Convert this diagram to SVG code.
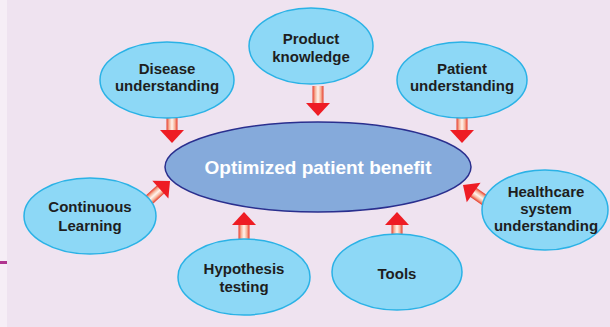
<svg xmlns="http://www.w3.org/2000/svg" width="610" height="327" viewBox="0 0 610 327">
<defs>
<style>
.node{fill:#8DD8F6;stroke:#2AB2E6;stroke-width:1.5}
.t{font-family:"Liberation Sans",Arial,sans-serif;font-weight:bold;font-size:15px;fill:#1E1E1E;text-anchor:middle}
.ct{font-family:"Liberation Sans",Arial,sans-serif;font-weight:bold;font-size:19px;fill:#FFFFFF;text-anchor:middle}
</style>
<linearGradient id="shaft" x1="0" y1="0" x2="0" y2="1">
<stop offset="0" stop-color="#E63A2A"/>
<stop offset="0.25" stop-color="#F7B49A"/>
<stop offset="0.5" stop-color="#FFF4EE"/>
<stop offset="0.75" stop-color="#F7B49A"/>
<stop offset="1" stop-color="#E63A2A"/>
</linearGradient>
<g id="arr">
<rect x="-30" y="-5.5" width="18" height="11" fill="url(#shaft)"/>
<polygon points="-13,-12 0,0 -13,12" fill="#EE1C24"/>
</g>
</defs>
<rect x="0" y="0" width="610" height="327" fill="#EFE3F0"/>
<rect x="0" y="0" width="7" height="327" fill="#F6EEF6"/>
<rect x="0" y="261" width="7" height="3" fill="#B0358F"/>
<g id="connectors">
<use href="#arr" transform="translate(172,143) rotate(90)"/>
<use href="#arr" transform="translate(318,116) rotate(90)"/>
<use href="#arr" transform="translate(462,143) rotate(90)"/>
<use href="#arr" transform="translate(170,181) rotate(-42)"/>
<use href="#arr" transform="translate(463,185) rotate(-145)"/>
<use href="#arr" transform="translate(244,212) rotate(-90)"/>
<use href="#arr" transform="translate(397,212) rotate(-90)"/>
</g>
<g id="center">
<ellipse cx="318" cy="167" rx="153" ry="45" fill="#85AADB" stroke="#2A2F8E" stroke-width="1.5"/>
<text class="ct" x="318" y="174">Optimized patient benefit</text>
</g>
<g id="disease">
<ellipse class="node" cx="167" cy="80" rx="67" ry="38"/>
<text class="t" x="167" y="74">Disease</text>
<text class="t" x="167" y="91">understanding</text>
</g>
<g id="product">
<ellipse class="node" cx="311" cy="46" rx="62" ry="38"/>
<text class="t" x="311" y="44">Product</text>
<text class="t" x="311" y="62">knowledge</text>
</g>
<g id="patient">
<ellipse class="node" cx="462" cy="80" rx="65" ry="38"/>
<text class="t" x="462" y="74">Patient</text>
<text class="t" x="462" y="91">understanding</text>
</g>
<g id="continuous">
<ellipse class="node" cx="90" cy="216" rx="66" ry="38"/>
<text class="t" x="90" y="212">Continuous</text>
<text class="t" x="90" y="231">Learning</text>
</g>
<g id="hypothesis">
<ellipse class="node" cx="244" cy="277" rx="66" ry="38"/>
<text class="t" x="244" y="274">Hypothesis</text>
<text class="t" x="244" y="292">testing</text>
</g>
<g id="tools">
<ellipse class="node" cx="397" cy="272" rx="65" ry="38"/>
<text class="t" x="397" y="279">Tools</text>
</g>
<g id="healthcare">
<ellipse class="node" cx="545" cy="210" rx="63" ry="40"/>
<text class="t" x="546" y="197">Healthcare</text>
<text class="t" x="546" y="214">system</text>
<text class="t" x="546" y="231">understanding</text>
</g>
</svg>
